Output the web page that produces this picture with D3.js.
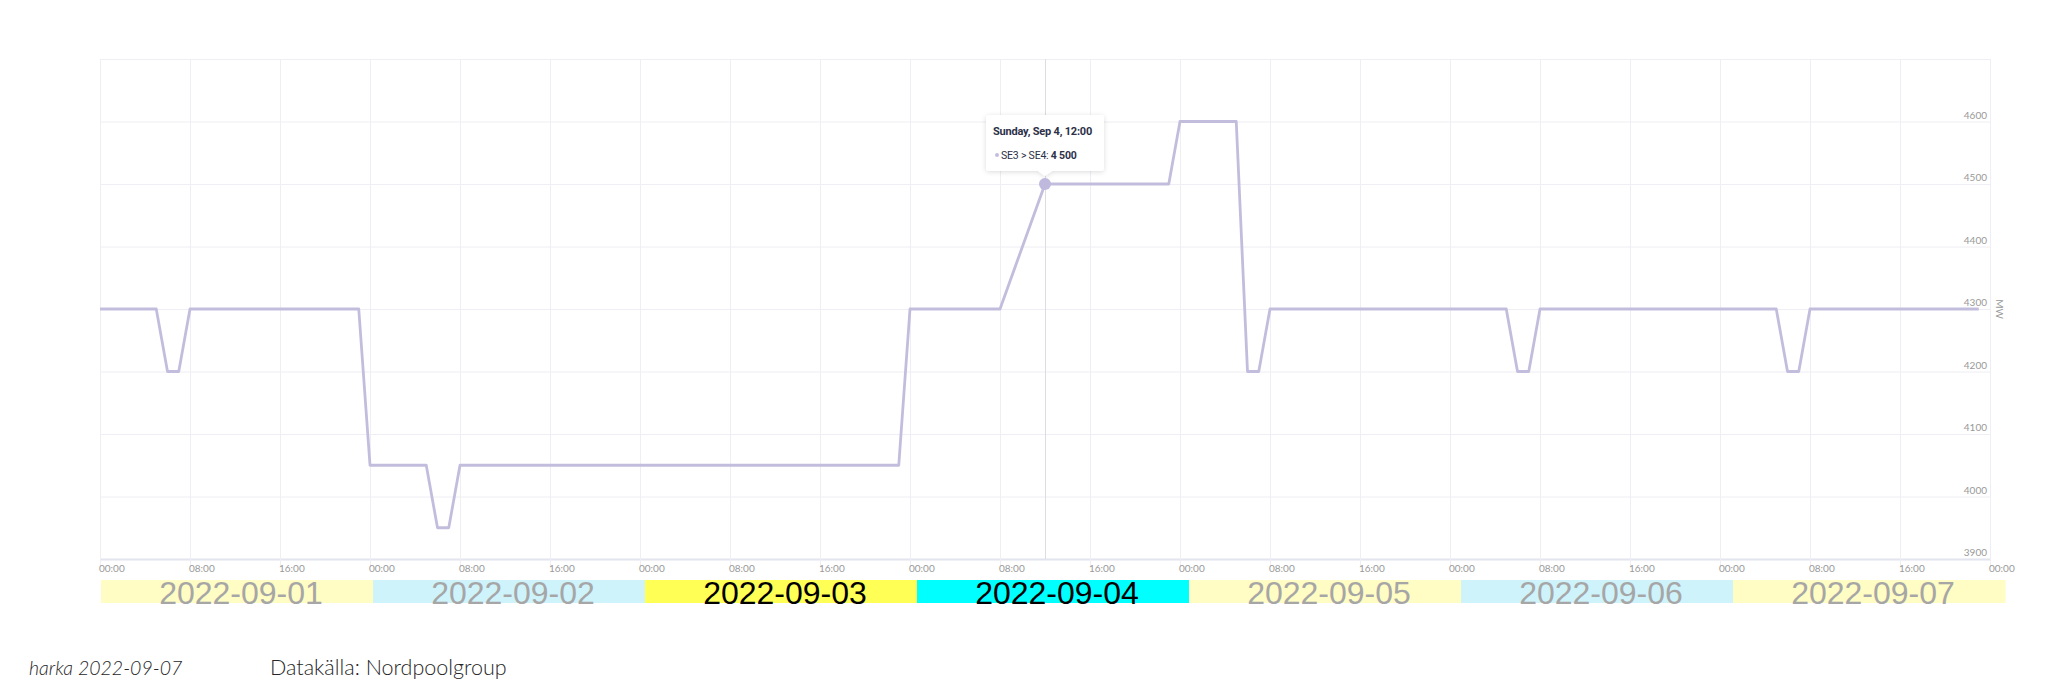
<!DOCTYPE html>
<html>
<head>
<meta charset="utf-8">
<script src="https://cdn.jsdelivr.net/npm/d3@7"></script>
<style>
	body { margin: 0; background: #ffffff; }
	svg { display: block; }
</style>
</head>
<body>
<div id="chart"></div>
<script>
"use strict";

// days shown in the coloured band under the axis
let days = ["2022-09-01", "2022-09-02", "2022-09-03", "2022-09-04", "2022-09-05", "2022-09-06", "2022-09-07"];

// SE3 > SE4 capacity, MW, one value per hour (00:00 .. 23:00)
let sep01 = [4300, 4300, 4300, 4300, 4300, 4300, 4200, 4200, 4300, 4300, 4300, 4300, 4300, 4300, 4300, 4300, 4300, 4300, 4300, 4300, 4300, 4300, 4300, 4300];
let sep02 = [4050, 4050, 4050, 4050, 4050, 4050, 3950, 3950, 4050, 4050, 4050, 4050, 4050, 4050, 4050, 4050, 4050, 4050, 4050, 4050, 4050, 4050, 4050, 4050];
let sep03 = [4050, 4050, 4050, 4050, 4050, 4050, 4050, 4050, 4050, 4050, 4050, 4050, 4050, 4050, 4050, 4050, 4050, 4050, 4050, 4050, 4050, 4050, 4050, 4050];
let sep04 = [4300, 4300, 4300, 4300, 4300, 4300, 4300, 4300, 4300, 4350, 4400, 4450, 4500, 4500, 4500, 4500, 4500, 4500, 4500, 4500, 4500, 4500, 4500, 4500];
let sep05 = [4600, 4600, 4600, 4600, 4600, 4600, 4200, 4200, 4300, 4300, 4300, 4300, 4300, 4300, 4300, 4300, 4300, 4300, 4300, 4300, 4300, 4300, 4300, 4300];
let sep06 = [4300, 4300, 4300, 4300, 4300, 4300, 4200, 4200, 4300, 4300, 4300, 4300, 4300, 4300, 4300, 4300, 4300, 4300, 4300, 4300, 4300, 4300, 4300, 4300];
let sep07 = [4300, 4300, 4300, 4300, 4300, 4300, 4200, 4200, 4300, 4300, 4300, 4300, 4300, 4300, 4300, 4300, 4300, 4300, 4300, 4300, 4300, 4300, 4300, 4300];

let yTicks = [3900, 4000, 4100, 4200, 4300, 4400, 4500, 4600];

// band look: background colour and text colour per day
let bandFill = ["#fffcc4", "#cff3fb", "#ffff55", "#00ffff", "#fffcc4", "#cff3fb", "#fffcc4"];
let bandText = ["#a6a6a6", "#a6a6a6", "#000000", "#000000", "#a6a6a6", "#a6a6a6", "#a6a6a6"];

// hovered point shown in the tooltip
let hoverTime = Date.UTC(2022, 8, 4, 12);
let hoverValue = 4500;

let width = 2048, height = 698;
let lineColor = "#c3bddd";
let gridColor = "#eeeef4";

let series = [sep01, sep02, sep03, sep04, sep05, sep06, sep07];
let points = [];
series.forEach(function (vals, d) {
	vals.forEach(function (v, h) {
		points.push({ t: new Date(Date.UTC(2022, 8, 1 + d, h)), v: v });
	});
});

let svg = d3.select("#chart")
	.append("svg")
	.attr("width", width)
	.attr("height", height)
	.style("background", "#ffffff");

let x = d3.scaleUtc()
	.domain([new Date(Date.UTC(2022, 8, 1)), new Date(Date.UTC(2022, 8, 8))])
	.range([100, 1990]);

let y = d3.scaleLinear()
	.domain([3900, 4700])
	.range([559, 59]);

let xTicks = x.ticks(d3.utcHour.every(8));

// horizontal grid
svg.append("g")
	.selectAll("line").data(y.ticks(8))
	.enter().append("line")
	.attr("x1", x.range()[0])
	.attr("x2", x.range()[1])
	.attr("y1", d => y(d) + 0.5)
	.attr("y2", d => y(d) + 0.5)
	.style("stroke", d => d === 3900 ? "#e2e4ee" : gridColor)
	.style("stroke-width", d => d === 3900 ? 2 : 1);

// vertical grid + ticks below the axis
svg.append("g")
	.selectAll("line").data(xTicks)
	.enter().append("line")
	.attr("x1", d => Math.round(x(d)) + 0.5)
	.attr("x2", d => Math.round(x(d)) + 0.5)
	.attr("y1", y.range()[1])
	.attr("y2", y.range()[0] + 8)
	.style("stroke", gridColor);

// x tick labels
svg.append("g")
	.selectAll("text").data(xTicks)
	.enter().append("text")
	.attr("x", d => x(d) - 1)
	.attr("y", 572)
	.style("font-family", "Lato, 'Noto Sans', sans-serif")
	.style("font-size", "10px")
	.style("fill", "#999999")
	.text(d3.utcFormat("%H:%M"));

// y tick labels, inside the plot on the right
svg.append("g")
	.selectAll("text").data(yTicks)
	.enter().append("text")
	.attr("x", 1987)
	.attr("y", d => y(d) - 3)
	.style("text-anchor", "end")
	.style("font-family", "Lato, 'Noto Sans', sans-serif")
	.style("font-size", "10px")
	.style("fill", "#999999")
	.text(d => d);

svg.append("text")
	.attr("transform", "translate(1996, 309) rotate(90)")
	.style("text-anchor", "middle")
	.style("font-family", "Lato, 'Noto Sans', sans-serif")
	.style("font-size", "10px")
	.style("fill", "#999999")
	.text("MW");

// crosshair
svg.append("line")
	.attr("x1", Math.round(x(hoverTime)) + 0.5)
	.attr("x2", Math.round(x(hoverTime)) + 0.5)
	.attr("y1", y.range()[1])
	.attr("y2", y.range()[0])
	.style("stroke", "#dcdce4")
	.style("stroke-width", 1);

// the series
let line = d3.line()
	.x(d => x(d.t))
	.y(d => y(d.v));

svg.append("path")
	.datum(points)
	.attr("d", line)
	.style("fill", "none")
	.style("stroke", lineColor)
	.style("stroke-width", 2.8)
	.style("stroke-linejoin", "round");

svg.append("circle")
	.attr("cx", x(hoverTime))
	.attr("cy", y(hoverValue))
	.attr("r", 6)
	.style("fill", "#c0b9de");

// tooltip
let defs = svg.append("defs");
let shadow = defs.append("filter")
	.attr("id", "tipShadow")
	.attr("x", "-20%").attr("y", "-30%")
	.attr("width", "140%").attr("height", "160%");
shadow.append("feDropShadow")
	.attr("dx", 0).attr("dy", 1)
	.attr("stdDeviation", 2.5)
	.attr("flood-color", "#000")
	.attr("flood-opacity", 0.14);

let tx = x(hoverTime), ty = y(hoverValue);
let tip = svg.append("g");
let boxL = 986, boxR = 1104, boxT = 115, boxB = 171;
tip.append("path")
	.attr("d", `M ${boxL + 3} ${boxT} L ${boxR - 3} ${boxT} Q ${boxR} ${boxT} ${boxR} ${boxT + 3}`
		+ ` L ${boxR} ${boxB - 3} Q ${boxR} ${boxB} ${boxR - 3} ${boxB}`
		+ ` L ${tx + 7} ${boxB} L ${tx} ${ty - 8} L ${tx - 7} ${boxB}`
		+ ` L ${boxL + 3} ${boxB} Q ${boxL} ${boxB} ${boxL} ${boxB - 3}`
		+ ` L ${boxL} ${boxT + 3} Q ${boxL} ${boxT} ${boxL + 3} ${boxT} Z`)
	.style("fill", "#ffffff")
	.style("filter", "url(#tipShadow)");

tip.append("text")
	.attr("x", 993)
	.attr("y", 135)
	.style("font-family", "Roboto, 'Noto Sans', sans-serif")
	.style("font-size", "11px")
	.style("font-weight", "bold")
	.style("letter-spacing", "-0.2px")
	.style("fill", "#2c3048")
	.text("Sunday, Sep 4, 12:00");

tip.append("circle")
	.attr("cx", 997)
	.attr("cy", 155)
	.attr("r", 2)
	.style("fill", lineColor);

let row = tip.append("text")
	.attr("x", 1001)
	.attr("y", 159)
	.style("font-family", "Roboto, 'Noto Sans', sans-serif")
	.style("font-size", "10.5px")
	.style("letter-spacing", "-0.2px")
	.style("fill", "#2c3048");
row.append("tspan").text("SE3 > SE4: ");
row.append("tspan").style("font-weight", "bold").text(d3.format(",")(hoverValue).replace(",", " "));

// coloured date band
let band = d3.scaleBand()
	.domain(days)
	.range([101, 2005]);

let bandG = svg.append("g")
	.selectAll("g").data(days)
	.enter().append("g")
	.attr("transform", d => `translate(${band(d)}, 580)`);

bandG.append("rect")
	.attr("width", band.bandwidth() + 0.5)
	.attr("height", 23)
	.style("fill", (d, i) => bandFill[i]);

bandG.append("text")
	.attr("x", band.bandwidth() / 2 + 4)
	.attr("y", 24)
	.style("text-anchor", "middle")
	.style("font-family", "'Liberation Sans', Arial, sans-serif")
	.style("font-size", "32px")
	.style("fill", (d, i) => bandText[i])
	.text(d => d);

// footer
svg.append("text")
	.attr("x", 29)
	.attr("y", 675)
	.style("font-family", "Lato, 'Open Sans', sans-serif")
	.style("font-size", "19.5px")
	.style("font-weight", 300)
	.style("font-style", "italic")
	.style("fill", "#262626")
	.text("harka 2022-09-07");

svg.append("text")
	.attr("x", 270)
	.attr("y", 675)
	.style("font-family", "Lato, 'Open Sans', sans-serif")
	.style("font-size", "21.5px")
	.style("font-weight", 300)
	.style("fill", "#262626")
	.text("Datakälla: Nordpoolgroup");
</script>
</body>
</html>
